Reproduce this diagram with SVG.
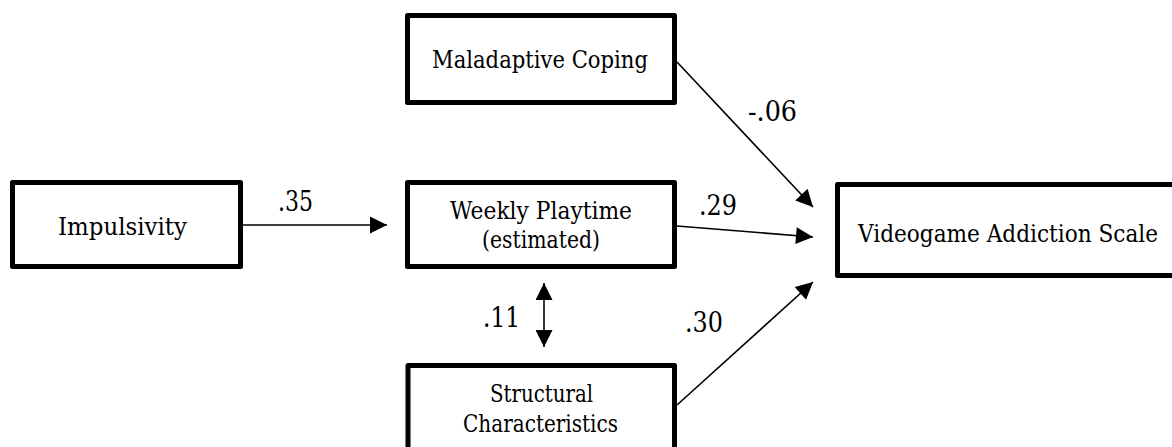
<svg xmlns="http://www.w3.org/2000/svg" width="1172" height="447" viewBox="0 0 1172 447">
<defs>
<style>
.box{fill:#fff;stroke:#000;stroke-width:5;stroke-linejoin:round}
.t{font-size:24px;fill:#000;text-anchor:middle}
.lab{font-size:27px;fill:#000}
.c{stroke:#000;stroke-width:1.6;fill:none}
</style>
<marker id="ah" viewBox="0 0 10 10" refX="10" refY="5" markerUnits="userSpaceOnUse" markerWidth="18" markerHeight="17" orient="auto-start-reverse">
<path d="M0,0 L10,5 L0,10 Z" fill="#000"/>
</marker>
</defs>
<rect width="1172" height="447" fill="#fff"/>
<g font-family="DejaVu Serif, serif">
<g id="connectors">
<line class="c" x1="242" y1="225" x2="387" y2="225" marker-end="url(#ah)"/>
<line class="c" x1="677" y1="62" x2="813" y2="207" marker-end="url(#ah)"/>
<line class="c" x1="677" y1="226" x2="813" y2="237" marker-end="url(#ah)"/>
<line class="c" x1="677" y1="405" x2="813" y2="282" marker-end="url(#ah)"/>
<line class="c" x1="544" y1="283" x2="544" y2="347" marker-start="url(#ah)" marker-end="url(#ah)"/>
<text class="lab" x="278" y="211" textLength="35" lengthAdjust="spacingAndGlyphs">.35</text>
<text class="lab" x="748" y="121" textLength="49" lengthAdjust="spacingAndGlyphs">-.06</text>
<text class="lab" x="699" y="215" textLength="38" lengthAdjust="spacingAndGlyphs">.29</text>
<text class="lab" x="483" y="327" textLength="37" lengthAdjust="spacingAndGlyphs">.11</text>
<text class="lab" x="685" y="332" textLength="38" lengthAdjust="spacingAndGlyphs">.30</text>
</g>
<g id="maladaptive">
<rect class="box" x="407.5" y="15.5" width="267" height="87"/>
<text class="t" x="540" y="68" textLength="216" lengthAdjust="spacingAndGlyphs">Maladaptive Coping</text>
</g>
<g id="impulsivity">
<rect class="box" x="12.5" y="182.5" width="228" height="84"/>
<text class="t" x="122.5" y="235" textLength="129" lengthAdjust="spacingAndGlyphs">Impulsivity</text>
</g>
<g id="weekly">
<rect class="box" x="407.5" y="182.5" width="267" height="84"/>
<text class="t" x="541" y="219" textLength="182" lengthAdjust="spacingAndGlyphs">Weekly Playtime</text>
<text class="t" x="541" y="248" textLength="118" lengthAdjust="spacingAndGlyphs">(estimated)</text>
</g>
<g id="structural">
<rect class="box" x="408" y="365.5" width="266.5" height="100"/>
<text class="t" x="541.5" y="402" textLength="103" lengthAdjust="spacingAndGlyphs">Structural</text>
<text class="t" x="540.5" y="432" textLength="155" lengthAdjust="spacingAndGlyphs">Characteristics</text>
</g>
<g id="vas">
<rect class="box" x="837.5" y="184.5" width="345" height="91"/>
<text class="t" x="1008" y="242" textLength="300" lengthAdjust="spacingAndGlyphs">Videogame Addiction Scale</text>
</g>
</g>
</svg>
